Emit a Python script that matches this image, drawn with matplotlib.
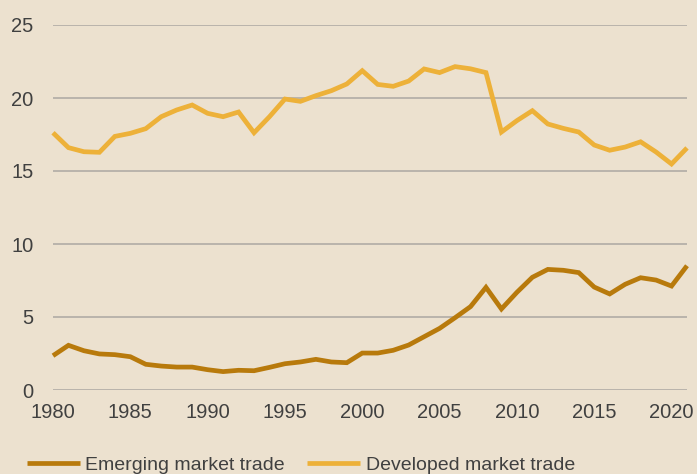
import numpy as np
import matplotlib
matplotlib.use("Agg")
import matplotlib.pyplot as plt

years = np.arange(1980, 2022)

emerging = [2.35, 3.06, 2.69, 2.47, 2.42, 2.28, 1.76, 1.64, 1.57, 1.57,
            1.39, 1.26, 1.35, 1.32, 1.55, 1.80, 1.92, 2.10, 1.92, 1.87,
            2.53, 2.53, 2.72, 3.08, 3.65, 4.22, 4.95, 5.71, 7.03, 5.55,
            6.69, 7.72, 8.26, 8.20, 8.04, 7.05, 6.58, 7.24, 7.69, 7.53,
            7.12, 8.51]

developed = [17.62, 16.60, 16.32, 16.28, 17.37, 17.58, 17.90, 18.72, 19.18, 19.52,
             18.95, 18.72, 19.04, 17.62, 18.72, 19.93, 19.77, 20.16, 20.50, 20.96,
             21.87, 20.93, 20.80, 21.16, 21.99, 21.74, 22.15, 22.00, 21.74, 17.67,
             18.45, 19.13, 18.22, 17.92, 17.67, 16.78, 16.42, 16.64, 17.00, 16.30,
             15.48, 16.58]

yticks = [0, 5, 10, 15, 20, 25]
xticks = [1980, 1985, 1990, 1995, 2000, 2005, 2010, 2015, 2020]

BG = "#ECE1CF"
EM_COLOR = "#B87A0C"
DM_COLOR = "#EDB139"
TEXT = "#404040"
GRID = "#ABA7A2"

plt.rcParams['font.family'] = ['Liberation Sans', 'DejaVu Sans']

fig = plt.figure(figsize=(6.97, 4.74), dpi=100, facecolor=BG)
ax = fig.add_axes([53/697, 1 - 390/474, 634/697, 365/474], facecolor=BG)

ax.plot(years, emerging, color=EM_COLOR, lw=3.4, solid_joinstyle='miter',
        solid_capstyle='butt', label="Emerging market trade", clip_on=False, zorder=3)
ax.plot(years, developed, color=DM_COLOR, lw=3.4, solid_joinstyle='miter',
        solid_capstyle='butt', label="Developed market trade", clip_on=False, zorder=3)

ax.set_xlim(1980, 2021)
ax.set_ylim(0, 25)
ax.set_yticks(yticks)
ax.set_xticks(xticks)
ax.grid(axis='y', color=GRID, lw=1.1)
ax.set_axisbelow(True)
for s in ax.spines.values():
    s.set_visible(False)
ax.tick_params(axis='both', length=0, labelsize=14.5, colors=TEXT)
ax.tick_params(axis='y', pad=14)
ax.tick_params(axis='x', pad=9)

fig.legend(loc='center left', bbox_to_anchor=(27/697, 1 - 465/474), ncol=2,
           frameon=False, fontsize=14, handlelength=2.7, handletextpad=0.3,
           columnspacing=1.15, borderpad=0, borderaxespad=0, labelcolor=TEXT)

fig.savefig("out.png", dpi=100, facecolor=BG)
